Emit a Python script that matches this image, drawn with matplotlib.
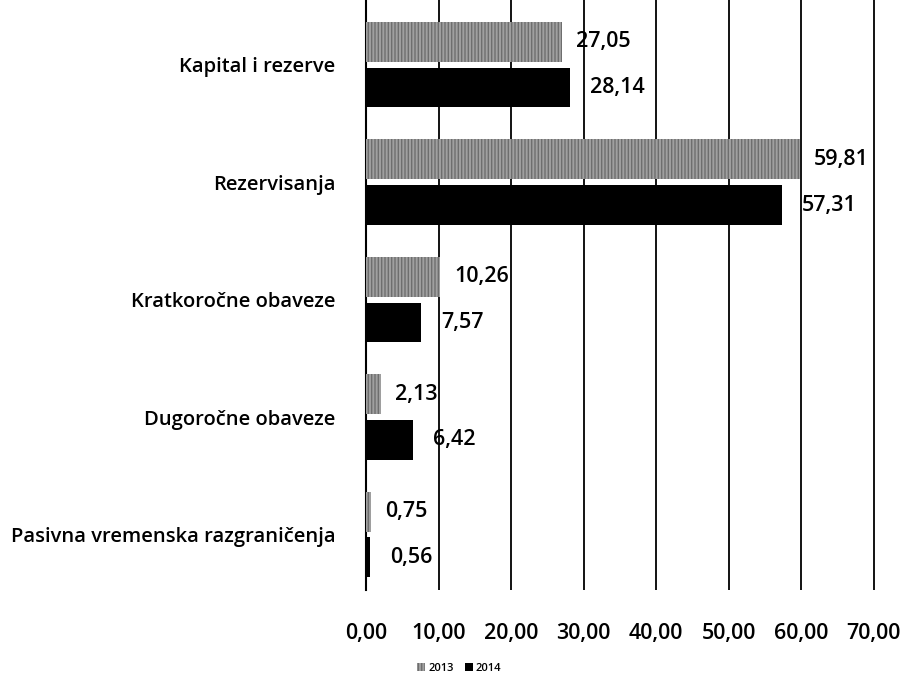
import numpy as np
import matplotlib
matplotlib.use('Agg')
import matplotlib.pyplot as plt

categories = ['Kapital i rezerve', 'Rezervisanja', 'Kratkoročne obaveze',
              'Dugoročne obaveze', 'Pasivna vremenska razgraničenja']
v2013 = [27.05, 59.81, 10.26, 2.13, 0.75]
v2014 = [28.14, 57.31, 7.57, 6.42, 0.56]
xticks = [0, 10, 20, 30, 40, 50, 60, 70]

plt.rcParams['font.family'] = ['Open Sans', 'DejaVu Sans']
plt.rcParams['font.weight'] = 'semibold'

fig = plt.figure(figsize=(9.06, 6.81), dpi=100)
ax = fig.add_axes([0.404, 0.134, 0.563, 0.866])

y = np.arange(len(categories))
h = 0.34
off = 0.195
b1 = ax.barh(y - off, v2013, h, color='#a0a0a0', hatch='|||||', edgecolor='#6e6e6e',
             linewidth=0, label='2013', zorder=3)
b2 = ax.barh(y + off, v2014, h, color='black', label='2014', zorder=3)

def fmt(v):
    return f'{v:.2f}'.replace('.', ',')

# label gap in points (2013 labels sit a little closer to the bar)
for bars, vals, gap in ((b1, v2013, 10), (b2, v2014, 14.5)):
    for r, v in zip(bars, vals):
        ax.annotate(fmt(v), (v, r.get_y() + r.get_height() / 2),
                    xytext=(gap, 0), textcoords='offset points', va='center',
                    ha='left', fontsize=15.5, color='black', zorder=4)

ax.set_yticks(y)
ax.set_yticklabels(categories, fontsize=14.5)
ax.set_xticks(xticks)
ax.set_xticklabels([fmt(t) for t in xticks], fontsize=15.5)
ax.set_xlim(0, 70.3)
ax.set_ylim(4.47, -0.55)
ax.tick_params(axis='both', length=0)
ax.tick_params(axis='y', pad=22)
ax.tick_params(axis='x', pad=24)
ax.grid(True, axis='x', color='black', linewidth=1.3, zorder=0)
for s in ('top', 'right', 'bottom'):
    ax.spines[s].set_visible(False)
ax.spines['left'].set_linewidth(1.5)

fig.legend(handles=[b1, b2], loc='center', bbox_to_anchor=(0.507, 0.018), ncol=2,
           frameon=False, fontsize=8, handlelength=0.7, handleheight=0.7,
           handletextpad=0.3, columnspacing=1.0)

fig.savefig('out.png', dpi=100)
